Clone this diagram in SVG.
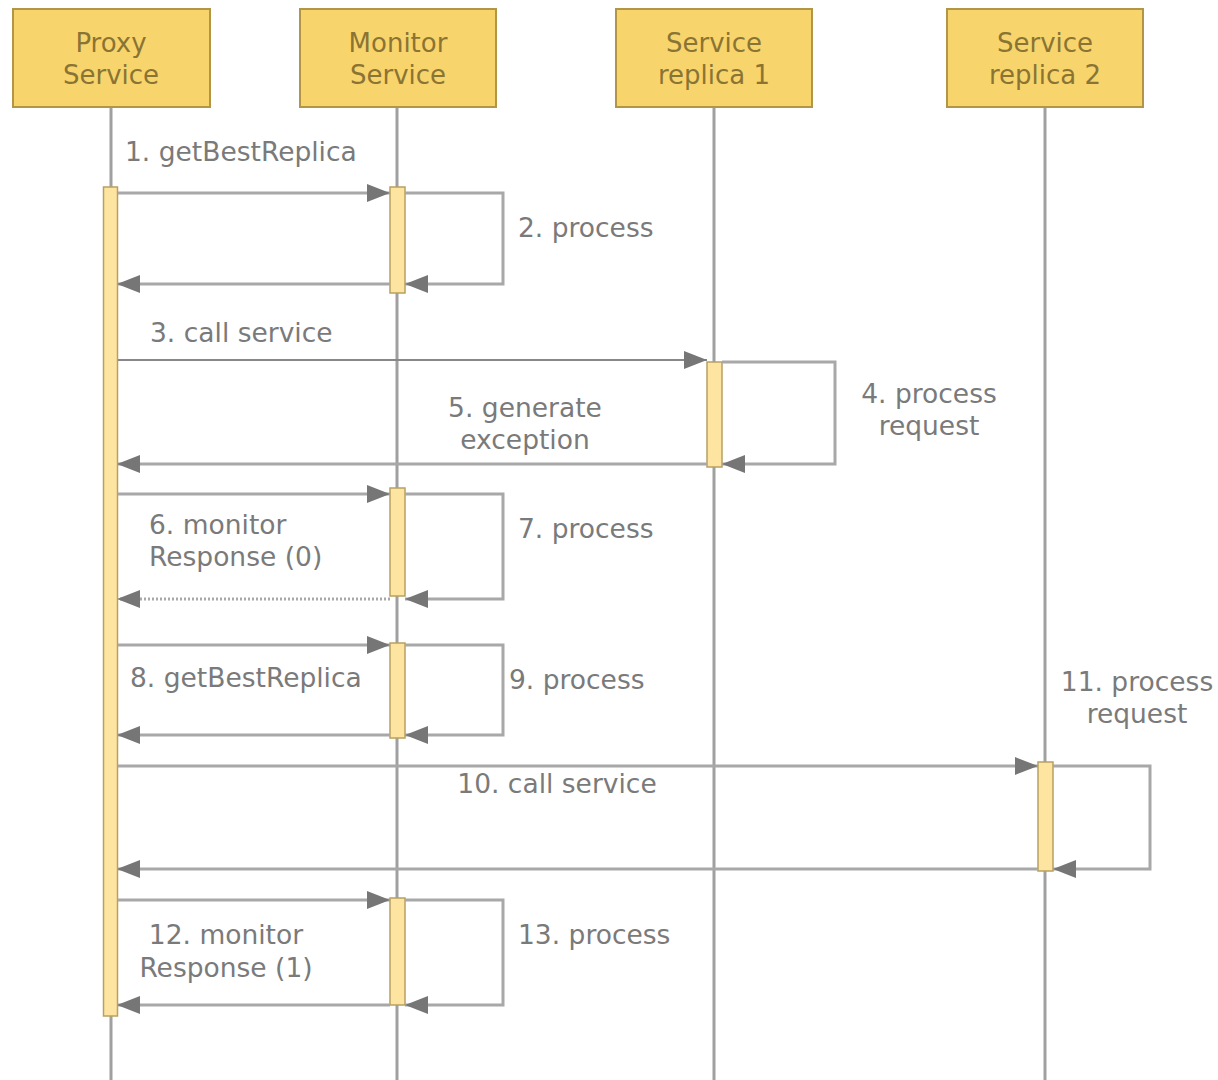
<svg xmlns="http://www.w3.org/2000/svg" width="1218" height="1080" viewBox="0 0 1218 1080">
<style>
.hdr{fill:#f8d46c;stroke:#b39645;stroke-width:2}
.htxt{font-family:"DejaVu Sans",sans-serif;font-size:26px;fill:#8a7434;text-anchor:middle}
.life{stroke:#a0a0a0;stroke-width:3;fill:none}
.act{fill:#fde4a0;stroke:#b8a060;stroke-width:1.5}
.msg{stroke:#a8a8a8;stroke-width:3;fill:none}
.msgd{stroke:#888;stroke-width:2;fill:none}
.dot{stroke:#a8a8a8;stroke-width:3;fill:none;stroke-dasharray:2 2}
.lbl{font-family:"DejaVu Sans",sans-serif;font-size:26.5px;fill:#7a7a7a}
.c{text-anchor:middle}
</style>
<defs>
<marker id="ah" markerUnits="userSpaceOnUse" markerWidth="24" markerHeight="20" refX="23" refY="10" orient="auto">
<path d="M0,1 L23,10 L0,19 z" fill="#767676"/>
</marker>
</defs>
<rect width="1218" height="1080" fill="#fff"/>
<g id="lifelines">
<line class="life" x1="111" y1="107" x2="111" y2="1080"/>
<line class="life" x1="397" y1="107" x2="397" y2="1080"/>
<line class="life" x1="714" y1="107" x2="714" y2="1080"/>
<line class="life" x1="1045" y1="107" x2="1045" y2="1080"/>
</g>
<g id="proxy">
<rect class="hdr" x="13" y="9" width="197" height="98"/>
<text class="htxt" x="111" y="52">Proxy</text>
<text class="htxt" x="111" y="84">Service</text>
</g>
<g id="monitor">
<rect class="hdr" x="300" y="9" width="196" height="98"/>
<text class="htxt" x="398" y="52">Monitor</text>
<text class="htxt" x="398" y="84">Service</text>
</g>
<g id="replica1">
<rect class="hdr" x="616" y="9" width="196" height="98"/>
<text class="htxt" x="714" y="52">Service</text>
<text class="htxt" x="714" y="84">replica 1</text>
</g>
<g id="replica2">
<rect class="hdr" x="947" y="9" width="196" height="98"/>
<text class="htxt" x="1045" y="52">Service</text>
<text class="htxt" x="1045" y="84">replica 2</text>
</g>
<g id="activations">
<rect class="act" x="103.5" y="187" width="14" height="829"/>
<rect class="act" x="390" y="187" width="15" height="106"/>
<rect class="act" x="390" y="488" width="15" height="108"/>
<rect class="act" x="390" y="643" width="15" height="95"/>
<rect class="act" x="390" y="898" width="15" height="107"/>
<rect class="act" x="707" y="362" width="15" height="105"/>
<rect class="act" x="1038" y="762" width="15" height="109"/>
</g>
<g id="connectors">
<line class="msg" x1="118" y1="193" x2="390" y2="193" marker-end="url(#ah)"/>
<polyline class="msg" points="405,193 503,193 503,284 405,284" marker-end="url(#ah)"/>
<line class="msg" x1="390" y1="284" x2="117" y2="284" marker-end="url(#ah)"/>
<line class="msgd" x1="118" y1="360" x2="707" y2="360" marker-end="url(#ah)"/>
<polyline class="msg" points="722,362 835,362 835,464 722,464" marker-end="url(#ah)"/>
<line class="msg" x1="707" y1="464" x2="117" y2="464" marker-end="url(#ah)"/>
<line class="msg" x1="118" y1="494" x2="390" y2="494" marker-end="url(#ah)"/>
<polyline class="msg" points="405,494 503,494 503,599 405,599" marker-end="url(#ah)"/>
<line class="dot" x1="390" y1="599" x2="117" y2="599" marker-end="url(#ah)"/>
<line class="msg" x1="118" y1="645" x2="390" y2="645" marker-end="url(#ah)"/>
<polyline class="msg" points="405,645 503,645 503,735 405,735" marker-end="url(#ah)"/>
<line class="msg" x1="390" y1="735" x2="117" y2="735" marker-end="url(#ah)"/>
<line class="msg" x1="118" y1="766" x2="1038" y2="766" marker-end="url(#ah)"/>
<polyline class="msg" points="1053,766 1150,766 1150,869 1053,869" marker-end="url(#ah)"/>
<line class="msg" x1="1038" y1="869" x2="117" y2="869" marker-end="url(#ah)"/>
<line class="msg" x1="118" y1="900" x2="390" y2="900" marker-end="url(#ah)"/>
<polyline class="msg" points="405,900 503,900 503,1005 405,1005" marker-end="url(#ah)"/>
<line class="msg" x1="390" y1="1005" x2="117" y2="1005" marker-end="url(#ah)"/>
</g>
<g id="labels">
<text class="lbl" x="125" y="161">1. getBestReplica</text>
<text class="lbl" x="518" y="237">2. process</text>
<text class="lbl" x="150" y="342">3. call service</text>
<text class="lbl c" x="929" y="403">4. process</text>
<text class="lbl c" x="929" y="435">request</text>
<text class="lbl c" x="525" y="417">5. generate</text>
<text class="lbl c" x="525" y="449">exception</text>
<text class="lbl" x="149" y="534">6. monitor</text>
<text class="lbl" x="149" y="566">Response (0)</text>
<text class="lbl" x="518" y="538">7. process</text>
<text class="lbl" x="130" y="687">8. getBestReplica</text>
<text class="lbl" x="509" y="689">9. process</text>
<text class="lbl c" x="557" y="793">10. call service</text>
<text class="lbl c" x="1137" y="691">11. process</text>
<text class="lbl c" x="1137" y="723">request</text>
<text class="lbl c" x="226" y="944">12. monitor</text>
<text class="lbl c" x="226" y="977">Response (1)</text>
<text class="lbl" x="518" y="944">13. process</text>
</g>
</svg>
